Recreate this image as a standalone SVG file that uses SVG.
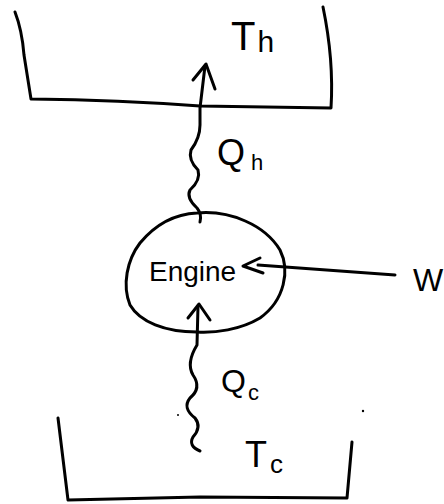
<svg xmlns="http://www.w3.org/2000/svg" width="444" height="504" viewBox="0 0 444 504">
<style>
.ln{fill:none;stroke:#000;stroke-width:3;stroke-linecap:round;stroke-linejoin:round}
.tx{font-family:"Liberation Sans",Arial,sans-serif;fill:#000}
</style>
<rect width="444" height="504" fill="#fff"/>
<g id="hot-reservoir">
<path class="ln" d="M15,12 Q22,30 24,55 L31,99 Q120,100 200,106 L331,108 Q334,60 323,7"/>
<text class="tx" x="231" y="50" font-size="40">T<tspan font-size="30" dx="2" dy="2">h</tspan></text>
</g>
<g id="engine">
<path class="ln" d="M197,213 C230,210 265,225 280,250 C290,270 285,300 260,318 C240,330 215,333 197,332 C165,332 140,322 130,305 C122,285 127,260 140,243 C155,225 175,214 197,213 Z"/>
<text class="tx" x="149" y="281" font-size="28">Engine</text>
</g>
<g id="cold-reservoir">
<path class="ln" d="M58,418 L68,500 L200,497 L347,498 L352,442"/>
<text class="tx" x="245" y="467" font-size="36">T<tspan font-size="26" dx="3" dy="6">c</tspan></text>
<circle cx="363" cy="411" r="1.2" fill="#000"/>
<circle cx="178" cy="415" r="1" fill="#000"/>
</g>
<g id="work">
<text class="tx" x="413" y="291" font-size="32">W</text>
</g>
<g id="connectors">
<path class="ln" d="M200,222 Q202,214 197,208 Q186,198 190,190 Q201,180 198,170 Q188,160 191,150 Q200,138 200,125 L200,108 L205,66"/>
<path class="ln" d="M193,80 L206,64 L215,89"/>
<text class="tx" x="217" y="165" font-size="36">Q<tspan font-size="22" dx="6" dy="5">h</tspan></text>
<path class="ln" d="M200,451 Q188,446 193,437 Q202,427 195,418 Q182,408 190,398 Q202,388 193,375 Q186,363 197,345 L198,306"/>
<path class="ln" d="M188,318 L199,304 L210,320"/>
<text class="tx" x="221" y="392" font-size="32">Q<tspan font-size="22" dx="2" dy="8">c</tspan></text>
<path class="ln" d="M395,275 L258,265"/>
<path class="ln" d="M260,258 L243,266 L263,273"/>
</g>
</svg>
